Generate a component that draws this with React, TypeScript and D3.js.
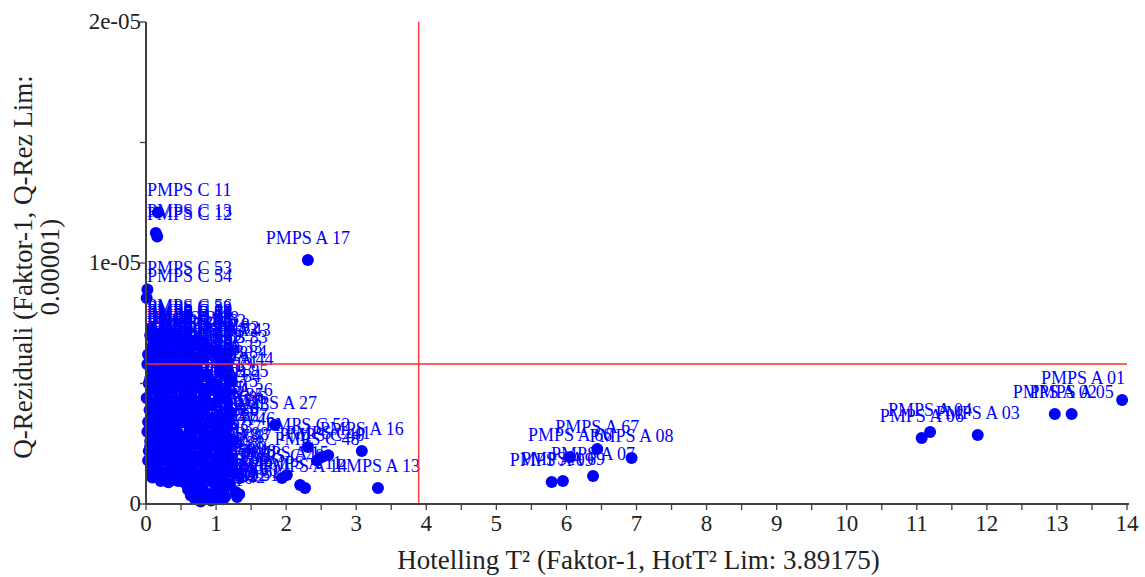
import React from "react";
import * as d3 from "d3";

// ---------- DATA ----------
// Outlying / well separated samples
const outlierIds = [
  "C 11", "C 13", "C 12", "A 17", "C 53", "C 54", "C 55", "C 14",
  "A 01", "A 02", "A 05", "A 03", "A 04", "A 06",
  "A 08", "A 67", "A 66", "A 07", "A 09", "A 69",
  "A 13", "A 16", "C 52", "A 27", "C 40", "C 41", "C 48", "C 49",
  "A 15", "A 11", "A 14", "A 78", "A 26",
];
const outlierT2 = [
  0.17, 0.14, 0.16, 2.31, 0.02, 0.01, 0.06, 0.1,
  13.93, 12.97, 13.21, 11.87, 11.19, 11.07,
  6.93, 6.44, 6.05, 6.38, 5.79, 5.95,
  3.31, 3.08, 2.31, 1.84, 2.51, 2.6, 2.44, 1.94,
  2.01, 2.2, 2.27, 0.86, 1.21,
];
const outlierQ = [
  12.1, 11.25, 11.1, 10.12, 8.9, 8.55, 7.0, 6.6,
  4.32, 3.73, 3.73, 2.86, 2.99, 2.74,
  1.91, 2.28, 1.95, 1.16, 0.91, 0.95,
  0.66, 2.2, 2.36, 3.28, 1.95, 2.02, 1.8, 1.08,
  1.2, 0.79, 0.66, 5.35, 3.8,
];

// Dense group of samples near the origin
const clusterIds = [
  "C 01", "C 02", "C 03", "C 04", "C 05", "C 06", "C 07", "C 08", "C 09", "C 10", "C 15",
  "C 16", "C 17", "C 18", "C 19", "C 20", "C 21", "C 22", "C 23", "C 24", "C 25", "C 26", "C 27", "C 28", "C 29", "C 30", "C 31",
  "C 32", "C 33", "C 34", "C 35", "C 36", "C 37", "C 38", "C 39", "C 42", "C 43", "C 44", "C 45", "C 46", "C 47", "C 50",
  "B 01", "B 02", "B 03", "B 04", "B 05", "B 06", "B 07", "B 08", "B 09", "B 10", "B 11", "B 12", "B 13",
  "B 14", "B 15", "B 16", "B 17", "B 18", "B 19", "B 20", "B 21", "B 22", "B 23", "B 24", "B 25", "B 26", "B 27",
  "B 28", "B 29", "B 30", "B 31", "B 32", "B 33", "B 34", "B 35", "B 36", "B 37", "B 38", "B 39", "B 40", "B 41",
  "A 18", "A 19", "A 20", "A 21", "A 22", "A 23", "A 24", "A 25", "A 28", "A 29", "A 30", "A 31",
  "A 32", "A 33", "A 34", "A 35", "A 36", "A 37", "A 38", "A 39", "A 40", "A 41", "A 42",
  "A 43", "A 44", "A 45", "A 46", "A 47", "A 48", "A 49", "A 50", "A 51", "A 52",
];
const clusterT2 = [
  0.03, 0.02, 0.04, 0.01, 0.05, 0.03, 0.02, 0.06, 0.04, 0.03, 0.07,
  0.12, 0.16, 0.14, 0.18, 0.13, 0.17, 0.15, 0.19, 0.12, 0.16, 0.2, 0.14, 0.18, 0.13, 0.17, 0.21,
  0.28, 0.32, 0.26, 0.3, 0.34, 0.27, 0.31, 0.35, 0.29, 0.33, 0.26, 0.3, 0.36, 0.28, 0.32,
  0.42, 0.46, 0.44, 0.48, 0.41, 0.45, 0.5, 0.43, 0.47, 0.41, 0.49, 0.44, 0.46,
  0.58, 0.62, 0.56, 0.6, 0.64, 0.57, 0.61, 0.65, 0.59, 0.63, 0.58, 0.62, 0.6, 0.64,
  0.72, 0.76, 0.74, 0.78, 0.71, 0.75, 0.79, 0.73, 0.77, 0.72, 0.76, 0.7, 0.74, 0.78,
  0.88, 0.92, 0.85, 0.9, 0.94, 0.87, 0.91, 0.95, 0.84, 0.89, 0.93, 0.73,
  1.02, 1.06, 1.04, 1.08, 1.01, 1.05, 1.09, 1.03, 1.07, 1.0, 1.1,
  1.18, 1.22, 1.16, 1.24, 1.19, 1.26, 1.2, 1.28, 1.3, 1.33,
];
const clusterQ = [
  6.2, 5.8, 5.0, 4.4, 3.9, 3.4, 3.0, 2.6, 2.2, 1.8, 1.4,
  7.1, 6.7, 6.3, 5.9, 5.5, 5.1, 4.7, 4.2, 3.7, 3.3, 2.9, 2.5, 2.1, 1.6, 1.2, 0.95,
  7.2, 6.8, 6.2, 5.7, 5.3, 4.6, 4.1, 3.6, 3.2, 2.8, 2.4, 2.0, 1.5, 1.1, 0.9,
  7.0, 6.5, 5.9, 5.4, 4.9, 4.3, 3.8, 3.3, 2.6, 2.2, 1.7, 1.3, 0.95,
  6.9, 6.3, 5.6, 5.0, 4.5, 4.0, 3.5, 2.9, 2.4, 1.9, 1.4, 1.0, 0.6, 0.35,
  6.8, 6.1, 5.5, 4.8, 4.2, 3.7, 3.1, 2.5, 1.8, 1.2, 0.7, 0.4, 0.2, 0.1,
  6.5, 4.9, 4.0, 3.4, 2.8, 2.1, 1.5, 0.9, 0.5, 0.3, 0.15, 5.27,
  6.4, 5.6, 4.4, 3.6, 3.0, 2.3, 1.6, 1.0, 0.6, 0.3, 0.2,
  6.3, 5.1, 3.2, 2.6, 1.9, 1.3, 0.8, 0.5, 0.29, 0.4,
];

// Further samples of the dense group (interleaved columns)
const denseIds = [
  "C 56", "C 57", "C 58", "C 59", "C 60", "C 61", "C 62", "C 63", "C 64", "C 65", "C 66", "C 67", "C 68", "C 69", "C 70",
  "C 71", "C 72", "C 73", "C 74", "C 75", "C 76", "C 77", "C 78", "C 79", "C 80", "C 81", "C 82", "C 83",
  "C 84", "C 85", "C 86", "C 87", "C 88", "C 89", "C 90", "C 91", "C 92", "C 93", "C 94", "C 95",
  "C 96", "C 97", "C 98", "C 99", "B 42", "B 43", "B 44", "B 45", "B 46", "B 47", "B 48", "B 49",
  "B 50", "B 51", "B 52", "B 53", "B 54", "B 55", "B 56", "B 57", "B 58", "B 59", "B 60", "B 61",
  "B 62", "B 63", "B 64", "B 65", "B 66", "B 67", "B 68", "B 69", "B 70", "B 71", "B 72",
  "B 73", "B 74", "B 75", "B 76", "B 77", "B 78", "B 79", "B 80", "B 81", "B 82",
  "B 83", "B 84", "B 85", "B 86", "B 87", "B 88", "B 89", "B 90", "B 91", "B 92",
];
const denseT2 = [
  0.08, 0.09, 0.07, 0.1, 0.08, 0.06, 0.09, 0.1, 0.07, 0.08, 0.09, 0.06, 0.1, 0.08, 0.09,
  0.22, 0.24, 0.21, 0.23, 0.25, 0.22, 0.24, 0.21, 0.23, 0.25, 0.22, 0.24, 0.23,
  0.38, 0.39, 0.37, 0.4, 0.38, 0.36, 0.39, 0.4, 0.37, 0.38, 0.39, 0.37,
  0.52, 0.54, 0.53, 0.51, 0.55, 0.52, 0.54, 0.53, 0.51, 0.55, 0.52, 0.54,
  0.68, 0.67, 0.69, 0.66, 0.68, 0.7, 0.67, 0.69, 0.66, 0.68, 0.67, 0.69,
  0.82, 0.81, 0.83, 0.8, 0.82, 0.84, 0.81, 0.83, 0.8, 0.82, 0.81,
  0.98, 0.97, 0.99, 0.96, 0.98, 1.0, 0.97, 0.99, 0.96, 0.98,
  1.13, 1.12, 1.14, 1.11, 1.13, 1.15, 1.12, 1.14, 1.11, 1.13,
];
const denseQ = [
  7.3, 6.9, 6.4, 6.0, 5.6, 5.2, 4.7, 4.2, 3.8, 3.3, 2.9, 2.4, 2.0, 1.6, 1.1,
  7.0, 6.5, 6.0, 5.4, 4.9, 4.4, 3.9, 3.4, 2.7, 2.3, 1.8, 1.3, 1.0,
  7.1, 6.6, 6.1, 5.5, 4.8, 4.3, 3.7, 3.1, 2.5, 1.9, 1.4, 1.0,
  6.8, 6.2, 5.7, 5.2, 4.6, 4.0, 3.4, 2.8, 2.3, 1.6, 1.1, 0.9,
  6.6, 5.8, 5.1, 4.4, 3.8, 3.2, 2.6, 2.0, 1.5, 0.9, 0.5, 0.25,
  6.7, 6.0, 4.5, 3.9, 3.0, 2.4, 1.7, 1.1, 0.7, 0.35, 0.2,
  6.3, 5.0, 4.2, 3.3, 2.6, 1.9, 1.3, 0.8, 0.45, 0.25,
  6.0, 5.4, 4.6, 3.5, 2.8, 2.0, 1.4, 0.9, 0.55, 0.3,
];

const xTicks = [0, 1, 2, 3, 4, 5, 6, 7, 8, 9, 10, 11, 12, 13, 14];
const xMinorTicks = [0.5, 1.5, 2.5, 3.5, 4.5, 5.5, 6.5, 7.5, 8.5, 9.5, 10.5, 11.5, 12.5, 13.5];
const yTicks = [0, 10, 20];
const yTickLabels = ["0", "1e-05", "2e-05"];
const yMinorTicks = [5, 15];

const hotT2Limit = 3.89175;
const qResLimit = 5.81; // drawn position of the Q-residual limit line (×1e-6)

const xTitle = "Hotelling T\u00B2 (Faktor-1, HotT\u00B2 Lim: 3.89175)";
const yTitle1 = "Q-Reziduali (Faktor-1, Q-Rez Lim:";
const yTitle2 = "0.00001)";

// ---------- CHART ----------
const W = 1145;
const H = 577;
const left = 146;
const right = 1127;
const top = 22;
const bottom = 504;

const FONT = "'Liberation Serif', 'Times New Roman', serif";
const BLUE = "#0000ff";
const AXIS = "#404040";

let measureCtx: CanvasRenderingContext2D | null = null;
function textWidth(s: string, size: number): number {
  if (!measureCtx) {
    const c = document.createElement("canvas");
    measureCtx = c.getContext("2d");
  }
  if (!measureCtx) return s.length * size * 0.5;
  measureCtx.font = `${size}px 'Liberation Serif'`;
  return measureCtx.measureText(s).width;
}

export default function App() {
  const x = d3.scaleLinear().domain([0, 14]).range([left, right]);
  const y = d3.scaleLinear().domain([0, 20]).range([bottom, top]);

  const points = [
    ...clusterIds.map((id, i) => ({ name: "PMPS " + id, t2: clusterT2[i], q: clusterQ[i] })),
    ...denseIds.map((id, i) => ({ name: "PMPS " + id, t2: denseT2[i], q: denseQ[i] })),
    ...outlierIds.map((id, i) => ({ name: "PMPS " + id, t2: outlierT2[i], q: outlierQ[i] })),
  ];

  const labelSize = 18;

  return (
    <svg
      width={W}
      height={H}
      style={{ position: "absolute", left: 0, top: 0, background: "#fff" }}
      fontFamily={FONT}
    >
      <rect x={0} y={0} width={W} height={H} fill="#fff" />

      {/* points */}
      <g>
        {points.map((p, i) => (
          <circle key={"c" + i} cx={x(p.t2)} cy={y(p.q)} r={6} fill={BLUE} />
        ))}
      </g>
      {/* labels */}
      <g fontSize={labelSize} fill={BLUE}>
        {points.map((p, i) => {
          const w = textWidth(p.name, labelSize);
          let cx = x(p.t2);
          cx = Math.max(left + 1 + w / 2, Math.min(right - 1 - w / 2, cx));
          return (
            <text key={"t" + i} x={cx} y={y(p.q) - 16} textAnchor="middle">
              {p.name}
            </text>
          );
        })}
      </g>

      {/* limit lines */}
      <line x1={x(hotT2Limit)} x2={x(hotT2Limit)} y1={top} y2={bottom} stroke="#ff2a2a" strokeWidth={1.3} />
      <line x1={left} x2={right} y1={y(qResLimit)} y2={y(qResLimit)} stroke="#ff2a2a" strokeWidth={1.3} />

      {/* axes */}
      <line x1={left} x2={left} y1={top} y2={bottom} stroke={AXIS} strokeWidth={2} />
      <line x1={left} x2={right + 2} y1={bottom} y2={bottom} stroke={AXIS} strokeWidth={2} />

      {xTicks.map((t) => (
        <g key={"xt" + t}>
          <line x1={x(t)} x2={x(t)} y1={bottom} y2={bottom + 6} stroke={AXIS} strokeWidth={1.3} />
          <text x={x(t)} y={bottom + 27} textAnchor="middle" fontSize={23} fill="#222">
            {t}
          </text>
        </g>
      ))}
      {xMinorTicks.map((t) => (
        <line key={"xm" + t} x1={x(t)} x2={x(t)} y1={bottom} y2={bottom + 6} stroke={AXIS} strokeWidth={1.3} />
      ))}
      {yTicks.map((t, i) => (
        <g key={"yt" + t}>
          <line x1={left - 6} x2={left} y1={y(t)} y2={y(t)} stroke={AXIS} strokeWidth={1.3} />
          <text x={left - 5} y={y(t) + 7} textAnchor="end" fontSize={23} fill="#222">
            {yTickLabels[i]}
          </text>
        </g>
      ))}
      {yMinorTicks.map((t) => (
        <line key={"ym" + t} x1={left - 6} x2={left} y1={y(t)} y2={y(t)} stroke={AXIS} strokeWidth={1.3} />
      ))}

      {/* titles */}
      <text x={(left + right) / 2 + 2} y={569} textAnchor="middle" fontSize={27} fill="#222">
        {xTitle}
      </text>
      <g transform={`translate(0, ${(top + bottom) / 2 + 4}) rotate(-90)`}>
        <text x={0} y={32} textAnchor="middle" fontSize={27} fill="#222">
          {yTitle1}
        </text>
        <text x={0} y={59} textAnchor="middle" fontSize={27} fill="#222">
          {yTitle2}
        </text>
      </g>
    </svg>
  );
}
